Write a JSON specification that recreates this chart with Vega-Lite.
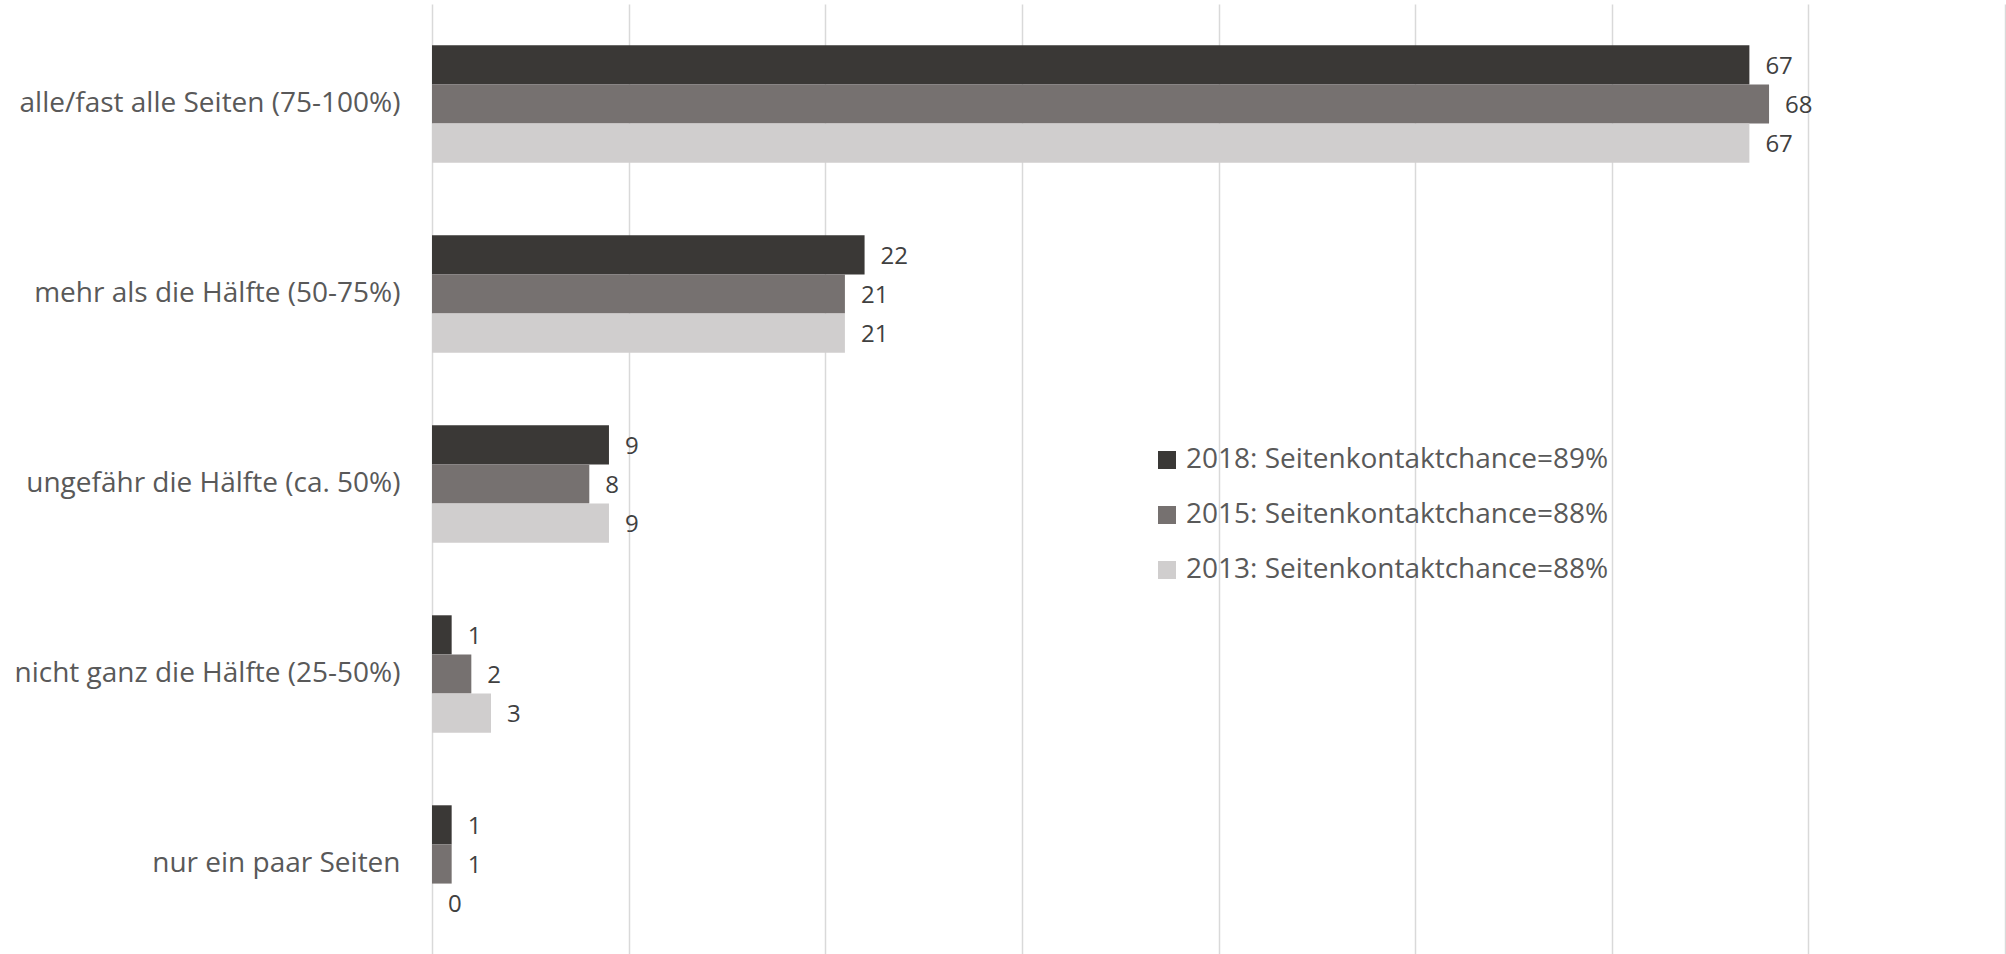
{
  "$schema": "https://vega.github.io/schema/vega-lite/v6.json",
  "width": 1573,
  "height": 945,
  "autosize": {"type": "none"},
  "padding": {"left": 432, "top": 9, "right": 1, "bottom": 0},
  "background": "white",
  "config": {"view": {"stroke": null}, "font": "Open Sans"},
  "data": {
    "values": [
      {"cat": "alle/fast alle Seiten (75-100%)", "series": "2018: Seitenkontaktchance=89%", "value": 67},
      {"cat": "alle/fast alle Seiten (75-100%)", "series": "2015: Seitenkontaktchance=88%", "value": 68},
      {"cat": "alle/fast alle Seiten (75-100%)", "series": "2013: Seitenkontaktchance=88%", "value": 67},
      {"cat": "mehr als die Hälfte (50-75%)", "series": "2018: Seitenkontaktchance=89%", "value": 22},
      {"cat": "mehr als die Hälfte (50-75%)", "series": "2015: Seitenkontaktchance=88%", "value": 21},
      {"cat": "mehr als die Hälfte (50-75%)", "series": "2013: Seitenkontaktchance=88%", "value": 21},
      {"cat": "ungefähr die Hälfte (ca. 50%)", "series": "2018: Seitenkontaktchance=89%", "value": 9},
      {"cat": "ungefähr die Hälfte (ca. 50%)", "series": "2015: Seitenkontaktchance=88%", "value": 8},
      {"cat": "ungefähr die Hälfte (ca. 50%)", "series": "2013: Seitenkontaktchance=88%", "value": 9},
      {"cat": "nicht ganz die Hälfte (25-50%)", "series": "2018: Seitenkontaktchance=89%", "value": 1},
      {"cat": "nicht ganz die Hälfte (25-50%)", "series": "2015: Seitenkontaktchance=88%", "value": 2},
      {"cat": "nicht ganz die Hälfte (25-50%)", "series": "2013: Seitenkontaktchance=88%", "value": 3},
      {"cat": "nur ein paar Seiten", "series": "2018: Seitenkontaktchance=89%", "value": 1},
      {"cat": "nur ein paar Seiten", "series": "2015: Seitenkontaktchance=88%", "value": 1},
      {"cat": "nur ein paar Seiten", "series": "2013: Seitenkontaktchance=88%", "value": 0}
    ]
  },
  "encoding": {
    "y": {
      "field": "cat",
      "type": "nominal",
      "sort": ["alle/fast alle Seiten (75-100%)", "mehr als die Hälfte (50-75%)", "ungefähr die Hälfte (ca. 50%)", "nicht ganz die Hälfte (25-50%)", "nur ein paar Seiten"],
      "scale": {"range": [0, 950], "paddingInner": 0.382, "paddingOuter": 0.191},
      "axis": {"title": null, "domain": false, "ticks": false, "labelPadding": 32, "labelFontSize": 28, "labelColor": "#595959", "labelFont": "Open Sans", "labelLimit": 600}
    },
    "yOffset": {
      "field": "series",
      "type": "nominal",
      "sort": ["2018: Seitenkontaktchance=89%", "2015: Seitenkontaktchance=88%", "2013: Seitenkontaktchance=88%"]
    },
    "x": {
      "field": "value",
      "type": "quantitative",
      "scale": {"domain": [0, 80], "nice": false},
      "axis": {"title": null, "labels": false, "ticks": false, "domain": false, "grid": true, "gridColor": "#d9d9d9", "gridWidth": 1.5, "values": [0, 10, 20, 30, 40, 50, 60, 70, 80]}
    }
  },
  "layer": [
    {
      "mark": {"type": "bar"},
      "encoding": {
        "color": {
          "field": "series",
          "type": "nominal",
          "sort": ["2018: Seitenkontaktchance=89%", "2015: Seitenkontaktchance=88%", "2013: Seitenkontaktchance=88%"],
          "scale": {"domain": ["2018: Seitenkontaktchance=89%", "2015: Seitenkontaktchance=88%", "2013: Seitenkontaktchance=88%"], "range": ["#3a3836", "#767170", "#d0cece"]},
          "legend": {"title": null, "orient": "none", "legendX": 721, "legendY": 437, "labelFontSize": 28, "labelColor": "#595959", "labelFont": "Open Sans", "symbolType": "square", "symbolSize": 324, "symbolStrokeWidth": 0, "rowPadding": 27, "labelOffset": 5, "labelLimit": 600}
        }
      }
    },
    {
      "mark": {"type": "text", "align": "left", "baseline": "middle", "dx": 16, "dy": 2, "fontSize": 24, "color": "#404040", "font": "Open Sans"},
      "encoding": {"text": {"field": "value", "type": "quantitative"}}
    }
  ]
}
